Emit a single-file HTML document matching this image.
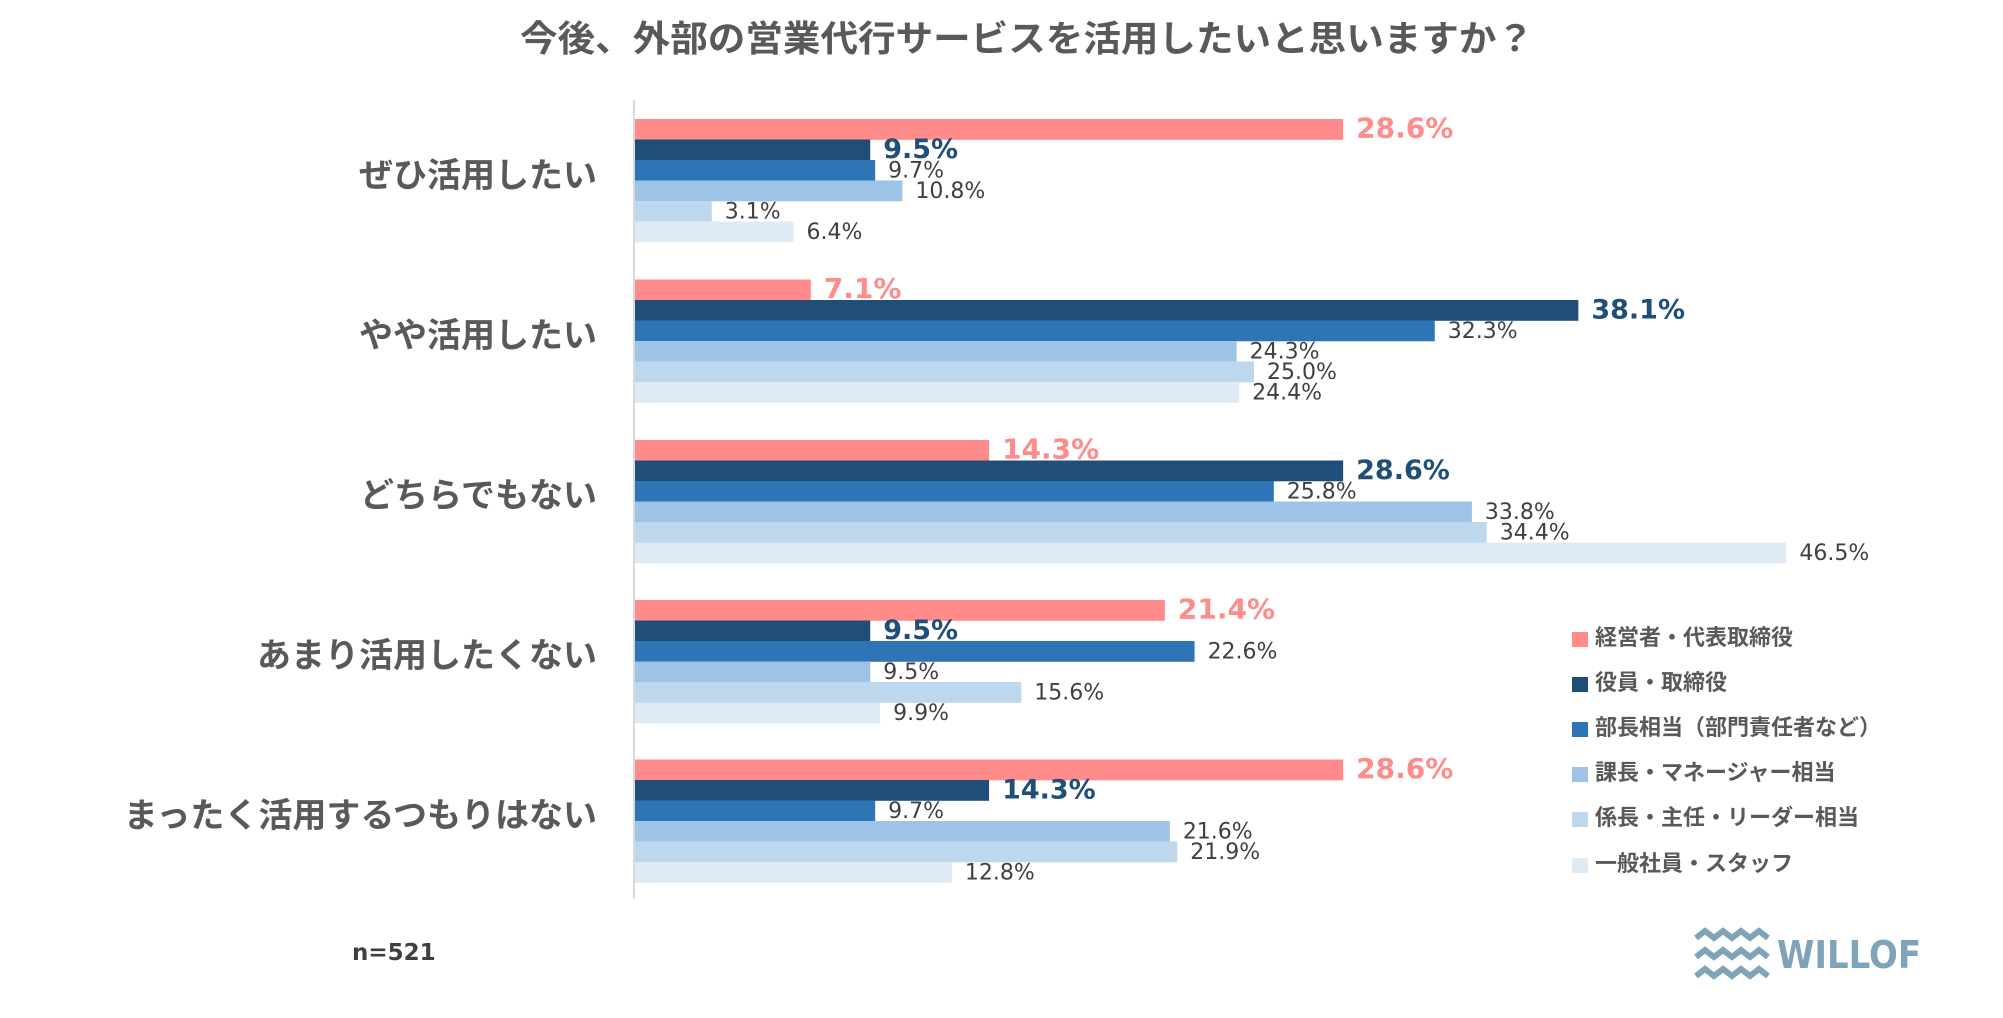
<!DOCTYPE html>
<html><head><meta charset="utf-8">
<style>
html,body{margin:0;padding:0;background:#fff;}
svg{display:block;}
</style></head>
<body>
<svg width="2003" height="1018" viewBox="0 0 2003 1018" xmlns="http://www.w3.org/2000/svg">
<rect width="2003" height="1018" fill="#fff"/>
<text x="1027" y="51" text-anchor="middle" font-family="'Liberation Sans','Noto Sans CJK JP',sans-serif" font-weight="bold" font-size="36" fill="#595959" textLength="1014" lengthAdjust="spacingAndGlyphs">今後、外部の営業代行サービスを活用したいと思いますか？</text>
<line x1="634" y1="100" x2="634" y2="899" stroke="#d9d9d9" stroke-width="2"/>
<g id="bars"></g>
<g font-family="'Liberation Sans','Noto Sans CJK JP',sans-serif" font-weight="bold" font-size="34" fill="#595959" text-anchor="end">
<text x="597" y="187">ぜひ活用したい</text>
<text x="597" y="347">やや活用したい</text>
<text x="597" y="507">どちらでもない</text>
<text x="597" y="667">あまり活用したくない</text>
<text x="597" y="827">まったく活用するつもりはない</text>
</g>
<text x="352" y="960" font-family="'DejaVu Sans','Liberation Sans',sans-serif" font-weight="bold" font-size="23" fill="#404040">n=521</text>
<g font-family="'Liberation Sans','Noto Sans CJK JP',sans-serif" font-weight="bold" font-size="22" fill="#595959">
<rect x="1572" y="632" width="16" height="15" fill="#ff8b8b"/><text x="1595" y="645">経営者・代表取締役</text>
<rect x="1572" y="677" width="16" height="15" fill="#1f4e79"/><text x="1595" y="690">役員・取締役</text>
<rect x="1572" y="722" width="16" height="15" fill="#2e75b6"/><text x="1595" y="735">部長相当（部門責任者など）</text>
<rect x="1572" y="767" width="16" height="15" fill="#9dc3e6"/><text x="1595" y="780">課長・マネージャー相当</text>
<rect x="1572" y="812" width="16" height="15" fill="#bdd7ee"/><text x="1595" y="825">係長・主任・リーダー相当</text>
<rect x="1572" y="858" width="16" height="15" fill="#deebf7"/><text x="1595" y="871">一般社員・スタッフ</text>
</g>
<g fill="none" stroke="#7fa3b8" stroke-width="6" stroke-linejoin="miter">
<polyline points="1696,938 1705,931 1714,938 1723,931 1732,938 1741,931 1750,938 1759,931 1768,938"/>
<polyline points="1696,957 1705,950 1714,957 1723,950 1732,957 1741,950 1750,957 1759,950 1768,957"/>
<polyline points="1696,976 1705,969 1714,976 1723,969 1732,976 1741,969 1750,976 1759,969 1768,976"/>
</g>
<text x="1777" y="968" font-family="'DejaVu Sans','Liberation Sans',sans-serif" font-weight="bold" font-size="38" fill="#7fa3b8" textLength="144" lengthAdjust="spacingAndGlyphs">WILLOF</text>
<script>
(function(){
var data=[[28.6,9.5,9.7,10.8,3.1,6.4],[7.1,38.1,32.3,24.3,25.0,24.4],[14.3,28.6,25.8,33.8,34.4,46.5],[21.4,9.5,22.6,9.5,15.6,9.9],[28.6,14.3,9.7,21.6,21.9,12.8]];
var cols=["#ff8b8b","#1f4e79","#2e75b6","#9dc3e6","#bdd7ee","#deebf7"];
var tops=[119,279.5,440,600,759.5];
var ns="http://www.w3.org/2000/svg";var g=document.getElementById("bars");
var ax=634,k=24.76,h=20.5;
for(var i=0;i<5;i++)for(var j=0;j<6;j++){
var v=data[i][j],y=tops[i]+j*h,w=v*k;
var r=document.createElementNS(ns,"rect");r.setAttribute("x",ax+1);r.setAttribute("y",y);r.setAttribute("width",w);r.setAttribute("height",h+0.3);r.setAttribute("fill",cols[j]);g.appendChild(r);
var t=document.createElementNS(ns,"text");t.setAttribute("x",ax+w+14);
t.setAttribute("font-family","'DejaVu Sans','Liberation Sans',sans-serif");
if(j<2){t.setAttribute("font-weight","bold");t.setAttribute("font-size",j==0?"28":"27");t.setAttribute("fill",j==0?"#ff8b8b":"#1f4e79");t.setAttribute("y",y+h-2);}
else{t.setAttribute("font-size","22");t.setAttribute("fill","#404040");t.setAttribute("y",y+h-3);}
t.textContent=v.toFixed(1)+"%";g.appendChild(t);}
})();
</script>
</svg>
</body></html>
